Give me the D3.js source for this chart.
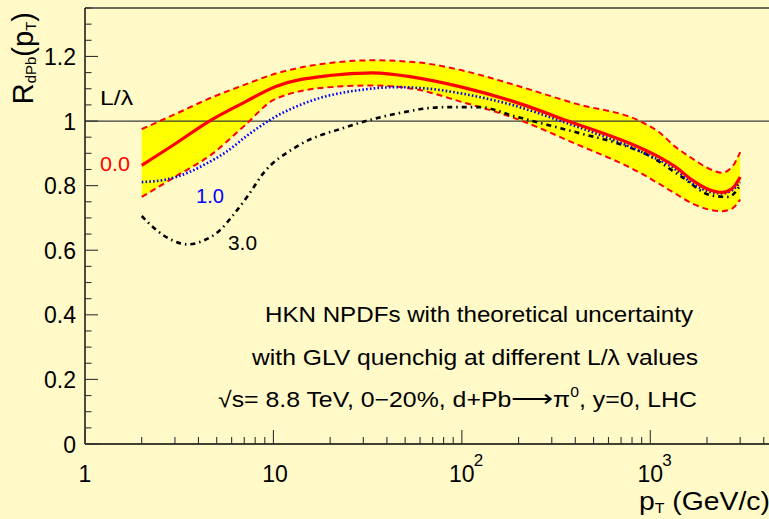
<!DOCTYPE html>
<html>
<head>
<meta charset="utf-8">
<script src="https://cdn.jsdelivr.net/npm/d3@7"></script>
<style>
  html, body { margin: 0; padding: 0; background: #fffac8; }
  svg { display: block; }
  text { font-family: "Liberation Sans", Arial, Helvetica, sans-serif; }
</style>
</head>
<body>
<svg id="chart" width="769" height="519"></svg>
<script>
// ---------------- data ----------------
// uncertainty band (L/lambda = 0.0)
const bandPt    = [2, 3, 4.75, 7, 10.3, 20, 33.5, 55, 100, 180, 400, 900, 1110, 1360, 1670, 2040, 2400, 2720, 3000];
const bandUpper = [0.975, 1.021, 1.074, 1.112, 1.147, 1.180, 1.188, 1.183, 1.157, 1.116, 1.054, 0.997, 0.966, 0.920, 0.884, 0.853, 0.840, 0.858, 0.904];
const bandLower = [0.765, 0.827, 0.899, 0.985, 1.069, 1.105, 1.110, 1.100, 1.059, 1.014, 0.930, 0.837, 0.806, 0.775, 0.745, 0.726, 0.721, 0.729, 0.757];

// central L/lambda = 0.0
const centralPt = [2, 3, 4.57, 7, 10.3, 19.8, 33.5, 55, 100, 180, 367, 900, 1110, 1360, 1670, 2040, 2400, 2720, 3000];
const centralR  = [0.863, 0.929, 1.000, 1.058, 1.107, 1.141, 1.149, 1.136, 1.105, 1.064, 1.000, 0.915, 0.889, 0.858, 0.817, 0.788, 0.779, 0.791, 0.827];

// L/lambda = 1.0
const q1Pt = [2, 2.7, 3.58, 4.4, 5.6, 7.3, 9.5, 16.1, 29.7, 44.8, 67, 100, 179, 367, 900, 1360, 1670, 2040, 2400, 2720, 3000];
const q1R  = [0.811, 0.819, 0.842, 0.868, 0.904, 0.956, 1.002, 1.064, 1.097, 1.105, 1.100, 1.085, 1.052, 0.992, 0.904, 0.850, 0.806, 0.782, 0.776, 0.786, 0.811];

// L/lambda = 3.0
const q3Pt = [2, 2.4, 2.9, 3.5, 4.3, 5.2, 6.1, 7.35, 8.8, 13.2, 24.3, 45, 82, 124, 190, 290, 430, 680, 975, 1470, 2100, 2600, 3000];
const q3R  = [0.706, 0.662, 0.631, 0.618, 0.631, 0.662, 0.708, 0.770, 0.837, 0.920, 0.981, 1.023, 1.043, 1.043, 1.015, 0.987, 0.961, 0.930, 0.894, 0.827, 0.770, 0.765, 0.801];

const yTicksMajor = [0, 0.2, 0.4, 0.6, 0.8, 1, 1.2];
const yTickLabels = ["0", "0.2", "0.4", "0.6", "0.8", "1", "1.2"];
const xDecades    = [1, 10, 100, 1000];
const xDecadeBase = ["1", "10", "10", "10"];
const xDecadeExp  = ["", "", "2", "3"];

const curveLabels = ["L/λ", "0.0", "1.0", "3.0"];
const textLines = [
  "HKN NPDFs with theoretical uncertainty",
  "with GLV quenchig at different L/λ values"
];

(function () {
// ---------------- layout ----------------
const svg = d3.select("#chart");
const W = 769, H = 519;
const mLeft = 85, mTop = 8, mBottom = 444, mRight = 782;

svg.append("rect").attr("x", 0).attr("y", 0).attr("width", W).attr("height", H).attr("fill", "#fffac8");

const x = d3.scaleLog().domain([1, 5000]).range([mLeft, mRight]);
const y = d3.scaleLinear().domain([0, 1.35]).range([mBottom, mTop]);

const zip = (a, b) => a.map((v, i) => [v, b[i]]);

// band
const area = d3.area()
  .x(d => x(d[0])).y0(d => y(d[2])).y1(d => y(d[1]))
  .curve(d3.curveMonotoneX);
svg.append("path")
  .datum(bandPt.map((p, i) => [p, bandUpper[i], bandLower[i]]))
  .attr("d", area).attr("fill", "#ffff00").attr("stroke", "none");

// reference line at 1
svg.append("line")
  .attr("x1", mLeft).attr("x2", mRight).attr("y1", y(1)).attr("y2", y(1))
  .attr("stroke", "#3a3a3a").attr("stroke-width", 1.3);

const line = d3.line().x(d => x(d[0])).y(d => y(d[1])).curve(d3.curveMonotoneX);

// band edges
svg.append("path").datum(zip(bandPt, bandUpper)).attr("d", line)
  .attr("fill", "none").attr("stroke", "#ff0000").attr("stroke-width", 2)
  .attr("stroke-dasharray", "6,4");
svg.append("path").datum(zip(bandPt, bandLower)).attr("d", line)
  .attr("fill", "none").attr("stroke", "#ff0000").attr("stroke-width", 2)
  .attr("stroke-dasharray", "6,4");

// L/lambda = 3.0
svg.append("path").datum(zip(q3Pt, q3R)).attr("d", line)
  .attr("fill", "none").attr("stroke", "#000000").attr("stroke-width", 2.6)
  .attr("stroke-dasharray", "5,4,1.5,4");

// L/lambda = 1.0
svg.append("path").datum(zip(q1Pt, q1R)).attr("d", line)
  .attr("fill", "none").attr("stroke", "#0000ff").attr("stroke-width", 2.6)
  .attr("stroke-dasharray", "1.6,2.2");

// central
svg.append("path").datum(zip(centralPt, centralR)).attr("d", line)
  .attr("fill", "none").attr("stroke", "#ff0000").attr("stroke-width", 3.2);

// ---------------- frame & axes ----------------
svg.append("line").attr("x1", mLeft).attr("x2", mRight).attr("y1", mTop).attr("y2", mTop)
  .attr("stroke", "#3a3a3a").attr("stroke-width", 1.4);
svg.append("line").attr("x1", mLeft).attr("x2", mLeft).attr("y1", mTop).attr("y2", mBottom)
  .attr("stroke", "#000").attr("stroke-width", 1.4);
svg.append("line").attr("x1", mLeft).attr("x2", mRight).attr("y1", mBottom).attr("y2", mBottom)
  .attr("stroke", "#000").attr("stroke-width", 1.4);

// y ticks
const yMinor = d3.range(0, 1.3501, 0.05);
svg.append("g").selectAll("line").data(yMinor).join("line")
  .attr("x1", mLeft).attr("y1", d => y(d)).attr("y2", d => y(d))
  .attr("x2", d => (Math.abs(Math.round(d / 0.2) * 0.2 - d) < 1e-6) ? mLeft + 13 : mLeft + 6.5)
  .attr("stroke", "#333").attr("stroke-width", 1.1);

svg.append("g").selectAll("text").data(yTicksMajor).join("text")
  .attr("x", 76).attr("y", d => y(d) + 8.5)
  .attr("text-anchor", "end").attr("font-size", 23).attr("fill", "#000")
  .text((d, i) => yTickLabels[i]);

// x ticks
const xMinor = [];
for (const dec of [1, 10, 100, 1000]) for (let k = 2; k <= 9; k++) { if (dec * k <= 5000) xMinor.push(dec * k); }
svg.append("g").selectAll("line").data(xMinor).join("line")
  .attr("x1", d => x(d)).attr("x2", d => x(d)).attr("y1", mBottom).attr("y2", mBottom - 7)
  .attr("stroke", "#333").attr("stroke-width", 1.1);
svg.append("g").selectAll("line").data(xDecades).join("line")
  .attr("x1", d => x(d)).attr("x2", d => x(d)).attr("y1", mBottom).attr("y2", mBottom - 14)
  .attr("stroke", "#333").attr("stroke-width", 1.1);

const xl = svg.append("g");
xDecades.forEach((d, i) => {
  xl.append("text").attr("x", x(d) + (i === 1 ? 1.5 : 0)).attr("y", 482)
    .attr("text-anchor", "middle").attr("font-size", 23).attr("fill", "#000")
    .text(xDecadeBase[i]);
  if (xDecadeExp[i]) {
    xl.append("text").attr("x", x(d) + 12).attr("y", 466)
      .attr("text-anchor", "start").attr("font-size", 17).attr("fill", "#000")
      .text(xDecadeExp[i]);
  }
});

// axis titles
const yt = svg.append("text")
  .attr("transform", "translate(33,12) rotate(-90)")
  .attr("text-anchor", "end").attr("fill", "#000");
yt.append("tspan").attr("font-size", 29).text("R");
yt.append("tspan").attr("font-size", 15).attr("dy", 3).text("dPb");
yt.append("tspan").attr("font-size", 29).attr("dy", -3).text("(p");
yt.append("tspan").attr("font-size", 15).attr("dy", 3).text("T");
yt.append("tspan").attr("font-size", 29).attr("dy", -3).text(")");

const xt = svg.append("text").attr("x", 639).attr("y", 510).attr("fill", "#000")
  .attr("textLength", 131).attr("lengthAdjust", "spacingAndGlyphs");
xt.append("tspan").attr("font-size", 25).text("p");
xt.append("tspan").attr("font-size", 14).attr("dy", 3).text("T");
xt.append("tspan").attr("font-size", 25).attr("dy", -3).text(" (GeV/c)");

// curve labels
const labelPos = [[100, 105, 33, "#000"], [100, 171, 30, "#ff0000"], [196, 203, 28, "#0000ff"], [228, 250, 29, "#000"]];
curveLabels.forEach((t, i) => {
  const p = labelPos[i];
  svg.append("text").attr("x", p[0]).attr("y", p[1]).attr("font-size", 19.5)
    .attr("textLength", p[2]).attr("lengthAdjust", "spacingAndGlyphs")
    .attr("fill", p[3]).text(t);
});

// annotation text
svg.append("text").attr("x", 265).attr("y", 322).attr("font-size", 22)
  .attr("textLength", 428).attr("lengthAdjust", "spacingAndGlyphs").text(textLines[0]);
svg.append("text").attr("x", 252).attr("y", 365).attr("font-size", 22)
  .attr("textLength", 446).attr("lengthAdjust", "spacingAndGlyphs").text(textLines[1]);

const l3 = svg.append("text").attr("x", 218).attr("y", 407).attr("font-size", 22)
  .attr("textLength", 479).attr("lengthAdjust", "spacingAndGlyphs");
l3.append("tspan").text("√s= 8.8 TeV, 0−20%, d+Pb");
l3.append("tspan").attr("font-size", 26).text("⟶");
l3.append("tspan").text("π");
l3.append("tspan").attr("font-size", 14).attr("dy", -10).text("0");
l3.append("tspan").attr("dy", 10).text(", y=0, LHC");
})();
</script>
</body>
</html>
